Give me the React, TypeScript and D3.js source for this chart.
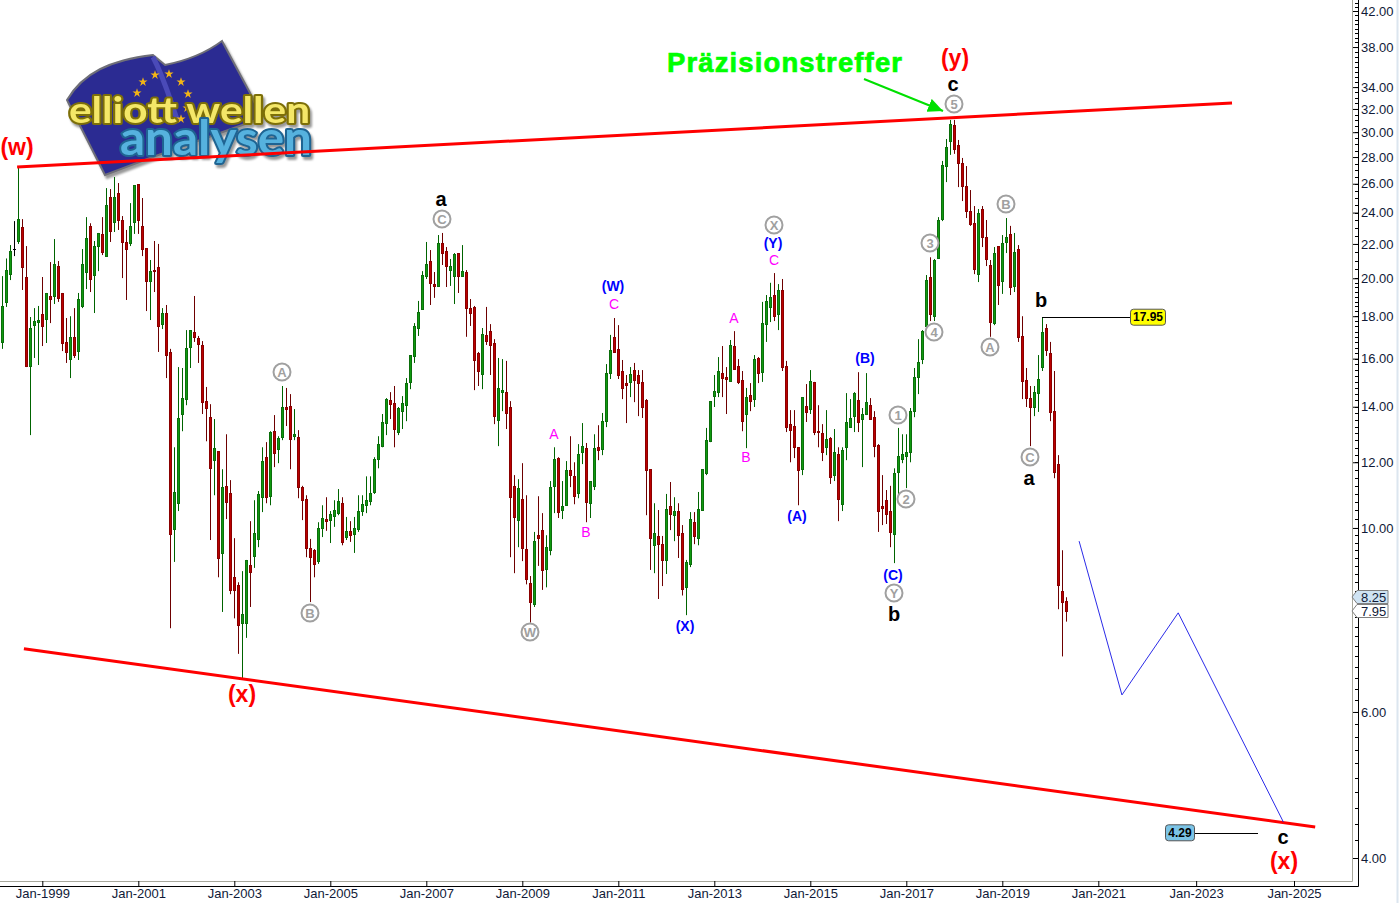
import React, { useEffect, useRef } from 'react';
import * as d3 from 'd3';

// monthly candles, first one is Mar-1998
const FIRST_MONTH = 2; // months after Jan-1998

const opens = [
  16.76,18.73,20.23,21.69,22.18,23.06,20.07,15.67,17.56,17.71,
  18.11,17.86,19.04,19.04,20.69,19.20,16.76,15.98,17.00,16.34,
  18.52,20.35,23.13,20.18,21.87,22.62,21.27,25.06,23.38,25.34,
  23.51,22.12,22.06,23.38,25.98,23.13,21.75,19.85,20.46,20.63,
  17.61,18.16,16.30,9.97,10.71,13.72,14.30,16.53,17.22,16.94,
  16.62,14.22,13.60,12.07,12.38,9.33,11.24,11.01,8.72,8.53,
  7.69,7.69,9.02,9.25,9.70,10.89,12.17,10.92,13.08,12.45,
  12.87,13.99,14.03,12.90,12.87,11.20,10.83,9.46,9.40,9.12,
  10.00,10.25,10.22,10.34,10.42,10.71,9.75,9.92,9.83,9.97,
  10.48,10.65,10.77,11.05,12.10,12.55,13.38,14.26,14.14,13.05,
  13.83,14.06,15.00,16.12,17.42,18.36,20.12,20.98,19.68,19.58,
  22.06,21.57,20.46,20.12,21.45,20.12,20.35,18.41,18.47,16.25,
  15.33,17.09,17.27,16.71,13.49,14.58,14.58,13.99,11.24,10.22,
  10.83,9.43,8.58,8.09,9.80,9.94,8.92,9.40,11.24,12.14,
  10.51,10.65,11.74,11.54,11.01,12.34,12.48,10.71,11.24,12.51,
  12.45,13.45,15.37,17.00,16.44,15.46,14.95,15.00,15.50,15.29,
  15.00,14.26,11.77,9.53,9.78,9.56,9.15,10.62,10.36,10.48,
  9.86,8.48,9.05,10.16,9.72,10.51,11.64,12.72,14.42,14.58,
  15.37,15.20,15.04,16.57,15.67,15.08,13.72,14.46,14.30,16.03,
  15.41,17.61,18.47,19.09,18.11,19.36,15.67,13.34,13.27,12.51,
  11.77,14.03,13.91,15.00,13.08,13.01,12.51,12.83,11.58,12.27,
  10.68,12.51,13.23,13.64,14.26,13.53,13.72,14.06,13.60,12.59,
  10.62,10.80,10.48,9.83,11.67,12.10,12.20,12.34,13.83,15.20,
  15.98,17.52,20.07,18.00,21.15,23.57,27.31,29.28,30.62,28.96,
  27.54,25.84,24.10,23.30,20.23,24.24,22.43,20.75,17.66,21.87,
  19.85,22.12,22.62,19.58,21.69,17.04,15.08,14.34,13.99,14.54,
  15.63,17.42,16.25,13.83,11.94,8.39,8.17,
];

const highs = [
  20.12,21.13,21.93,23.44,27.16,23.57,21.87,17.96,18.41,18.52,
  20.07,19.20,20.92,22.30,20.98,19.20,17.91,18.00,18.41,19.20,
  21.69,23.70,23.30,22.18,22.68,23.70,25.69,25.62,26.49,26.05,
  23.77,22.87,24.64,25.90,25.98,24.99,21.75,21.04,22.18,22.00,
  18.41,18.57,16.44,12.51,15.63,15.59,17.32,17.32,19.04,17.04,
  16.80,14.79,14.10,13.53,12.38,11.77,12.97,11.42,9.72,8.60,
  8.87,9.15,10.19,10.80,11.08,12.51,12.69,13.08,13.68,12.90,
  14.83,14.75,14.50,13.91,13.12,11.24,10.95,9.70,9.43,10.16,
  10.65,10.89,10.48,10.80,11.14,10.89,10.31,10.19,10.31,10.95,
  10.95,11.54,11.54,12.17,12.90,13.72,14.34,14.58,14.83,13.99,
  14.42,15.16,16.16,17.66,18.78,20.40,22.12,21.63,20.35,22.55,
  22.68,21.81,21.10,21.45,21.45,21.93,20.46,18.88,18.52,16.30,
  17.42,18.47,17.61,16.89,16.03,15.98,15.90,14.22,11.58,11.45,
  11.97,10.95,8.75,9.89,10.92,10.42,9.80,11.39,12.51,12.17,
  11.39,12.04,12.90,12.00,12.62,13.38,12.66,11.39,12.97,13.30,
  13.76,15.76,17.09,17.91,17.56,15.94,15.29,15.63,15.81,15.50,
  15.50,14.30,11.77,10.71,10.51,9.78,10.99,11.36,10.89,10.71,
  10.08,9.15,10.45,10.45,11.05,11.77,13.20,14.22,15.29,16.07,
  16.57,15.63,16.85,17.27,15.98,15.46,14.75,14.95,16.16,16.07,
  18.73,19.09,19.75,20.29,19.68,19.96,15.90,13.87,13.87,12.51,
  14.38,14.91,15.50,15.00,14.06,13.34,13.87,12.87,13.16,12.51,
  12.51,14.54,14.30,14.58,15.41,13.95,15.37,14.34,13.83,12.62,
  11.58,11.11,11.24,11.80,13.20,12.97,12.97,13.95,15.59,16.89,
  17.32,20.18,21.20,21.10,23.70,27.70,29.44,31.04,31.04,29.36,
  27.93,27.31,25.55,24.44,24.24,24.44,23.51,21.04,21.81,21.87,
  22.55,23.64,23.13,22.68,21.93,18.00,15.59,14.83,14.83,16.16,
  17.96,17.61,16.76,15.46,12.24,9.40,8.25,
];

const lows = [
  16.44,18.47,19.90,21.27,22.00,19.36,15.63,12.94,16.03,15.72,
  16.57,16.71,17.66,18.62,18.73,16.34,15.81,15.16,16.03,15.94,
  18.41,19.41,19.25,18.16,20.40,21.33,21.27,22.12,22.74,22.87,
  20.01,18.83,21.87,22.62,22.62,21.27,18.26,17.81,19.25,16.30,
  17.37,15.16,7.57,9.10,10.48,13.08,14.06,15.59,16.76,15.81,
  13.72,12.72,9.67,10.95,8.72,7.92,10.25,8.32,7.78,7.05,
  6.58,7.37,8.03,8.95,9.48,10.45,10.71,10.65,11.84,11.97,
  12.76,13.27,11.77,12.76,10.86,10.22,9.22,8.14,8.72,9.05,
  9.75,9.92,9.59,10.03,10.36,9.53,9.67,9.62,9.33,9.89,
  10.34,10.42,10.65,10.99,11.80,12.51,12.94,13.53,12.51,12.94,
  13.16,13.45,14.70,15.81,17.04,18.36,19.96,18.57,18.94,19.52,
  20.75,19.52,19.58,18.62,19.20,20.12,17.00,17.52,14.66,14.83,
  14.70,16.62,15.29,13.34,12.55,13.83,13.16,9.22,8.82,9.48,
  9.12,8.55,7.69,8.03,9.00,8.42,8.48,9.27,10.42,10.28,
  10.25,10.65,11.20,10.68,10.86,11.94,10.16,10.28,11.11,12.07,
  12.24,13.23,15.12,16.30,15.12,14.30,13.38,14.38,14.18,13.64,
  13.57,10.36,8.90,8.82,8.21,8.51,8.80,9.94,9.64,9.20,
  8.29,7.85,8.97,9.56,9.53,10.51,11.58,12.69,13.99,14.38,
  14.38,13.72,15.04,15.55,14.91,13.08,12.48,13.83,13.99,14.95,
  15.00,16.76,17.71,17.76,17.32,15.46,13.05,12.00,12.14,10.65,
  11.58,13.42,13.72,12.94,12.51,12.04,12.24,11.30,11.39,10.19,
  10.48,12.07,13.20,13.05,13.05,11.84,13.68,13.53,12.17,9.89,
  10.08,10.11,9.48,9.07,10.99,11.97,11.17,12.00,13.60,14.50,
  15.76,17.42,17.76,17.76,21.10,23.44,26.12,28.17,28.25,25.76,
  24.78,23.64,23.13,20.23,19.79,21.81,20.69,17.00,17.56,18.57,
  19.15,21.45,19.09,19.25,16.76,14.30,13.99,12.55,13.64,13.80,
  15.46,16.12,13.45,11.48,7.98,7.00,7.71,
];

const closes = [
  18.52,20.46,21.57,21.69,23.57,20.63,15.67,17.42,17.76,17.81,
  17.52,19.20,18.88,20.80,18.94,16.71,16.30,17.00,16.16,18.88,
  20.80,22.36,19.96,21.87,22.68,21.51,24.51,22.81,25.06,23.51,
  22.12,21.69,23.13,25.90,23.51,21.69,19.85,20.40,20.40,17.52,
  18.16,16.16,9.83,11.05,13.57,14.34,16.48,17.32,17.00,16.66,
  14.18,13.95,11.80,12.48,9.20,11.20,10.74,8.42,8.42,7.63,
  7.87,9.15,8.85,9.86,10.99,12.04,10.89,13.05,12.31,12.83,
  13.99,13.91,12.80,12.97,11.20,10.80,9.46,9.22,9.05,10.00,
  10.28,10.19,10.39,10.51,10.77,9.62,9.92,9.80,10.00,10.48,
  10.68,10.80,11.01,12.10,12.62,13.42,14.30,14.10,13.16,13.95,
  14.14,14.95,16.16,17.52,18.21,20.18,20.80,19.74,19.58,22.06,
  21.45,20.69,20.69,21.39,20.12,20.40,18.41,18.16,15.94,15.46,
  17.14,16.80,16.62,13.64,14.75,14.66,13.76,10.89,10.31,11.17,
  9.46,8.67,8.14,9.64,9.72,8.90,9.48,11.20,12.10,10.45,
  10.62,11.74,11.58,10.92,12.27,12.55,10.74,11.39,12.48,12.41,
  13.45,15.37,16.39,16.30,15.29,14.75,14.87,15.33,15.08,14.95,
  13.99,11.74,9.72,9.86,9.56,9.15,10.54,10.39,10.48,9.80,
  8.44,9.10,10.25,9.78,10.54,11.77,12.76,14.22,14.62,15.46,
  15.16,15.12,16.62,15.55,15.00,13.45,14.38,14.22,15.98,15.37,
  17.66,18.78,18.99,18.00,19.36,15.63,13.23,13.12,12.51,11.74,
  14.38,13.80,15.04,13.05,13.05,12.34,12.80,11.51,12.34,10.83,
  12.41,13.42,13.57,14.54,13.42,13.72,14.18,13.53,12.55,10.48,
  10.58,10.39,9.89,11.64,12.20,12.27,12.34,13.83,15.20,15.85,
  17.27,19.90,18.11,21.04,23.51,27.39,28.80,30.70,28.64,27.54,
  25.84,24.10,23.25,20.52,23.97,22.43,21.10,17.71,21.45,19.63,
  22.06,22.43,19.52,21.51,17.00,15.04,14.34,13.99,14.58,15.12,
  17.22,16.39,13.80,11.67,8.53,8.14,7.95,
];

// trend channel and forecast, [months after Jan-1998, price]
const upperChannel: [number, number][] = [[5.7, 27.23], [308.8, 32.54]];
const lowerChannel: [number, number][] = [[7.4, 7.15], [329.2, 4.36]];
const forecast: [number, number][] = [[271.2, 9.64], [281.8, 6.29], [295.6, 7.90], [321.4, 4.42]];

const yTickValues = [4, 6, 10, 12, 14, 16, 18, 20, 22, 24, 26, 28, 30, 32, 34, 38, 42];
const xTickYears = d3.range(1999, 2026, 2);

const redLabels: [string, number, number][] = [['(w)', 17, 147], ['(x)', 242, 694], ['(y)', 955, 58], ['(x)', 1284, 861]];
const blackLabels: [string, number, number][] = [['a', 441, 199], ['c', 953, 84], ['b', 1041, 300], ['a', 1029, 478], ['b', 894, 614], ['c', 1283, 837]];
const blueLabels: [string, number, number][] = [['(W)', 613, 286], ['(Y)', 773, 243], ['(B)', 865, 358], ['(A)', 797, 516], ['(X)', 685, 626], ['(C)', 893, 575]];
const pinkLabels: [string, number, number][] = [['C', 614, 304], ['C', 774, 260], ['A', 554, 434], ['B', 586, 532], ['A', 734, 318], ['B', 746, 457]];
const circledLabels: [string, number, number][] = [
  ['C', 442, 219], ['A', 282, 372], ['B', 310, 613], ['W', 530, 632], ['X', 774, 225], ['Y', 894, 593],
  ['1', 898, 415], ['2', 906, 499], ['3', 930, 243], ['4', 934, 332], ['5', 954, 104],
  ['A', 990, 347], ['B', 1006, 204], ['C', 1030, 457],
];
const logoStars = [[143, 82], [155, 75], [169, 74], [181, 82], [188, 94], [187, 108], [181, 119], [137, 93]];

const x = d3.scaleLinear().domain([2, 276, 324]).range([2.3, 1098.3, 1294]);
const y = d3.scaleLog().domain([4, 42]).range([858, 11]);
const FONT = '"Liberation Sans", Arial, sans-serif';
const AXIS_COLOR = '#101a38';

const trendLine = d3.line<[number, number]>().x(d => x(d[0])).y(d => y(d[1]));

function Labels({ items, ...rest }: any) {
  return (
    <g textAnchor="middle" dominantBaseline="central" fontFamily={FONT} {...rest}>
      {items.map(([t, px, py]: any, i: number) => <text key={i} x={px} y={py}>{t}</text>)}
    </g>
  );
}

function PriceFlag({ value, fill }: { value: number; fill: string }) {
  const py = Math.round(y(value));
  const path = d3.path();
  path.moveTo(1352, py);
  path.lineTo(1357, py - 6.5);
  path.lineTo(1388, py - 6.5);
  path.lineTo(1388, py + 6.5);
  path.lineTo(1357, py + 6.5);
  path.closePath();
  return (
    <g>
      <path d={path.toString()} fill={fill} stroke="#808080" />
      <text x={1361} y={py} dominantBaseline="central" fontFamily={FONT} fontSize={13} fill={AXIS_COLOR}>{value.toFixed(2)}</text>
    </g>
  );
}

const FLAG_PATH = 'M67 100 C83 73 110 60 153 55 L165 65 C190 60 210 50 222 41 L250 93 L262 118 L150 158 L105 175 Z';

function Logo() {
  const star = d3.symbol().type(d3.symbolStar).size(26)() as string;
  const shared = {
    fontFamily: '"Lato", "Noto Sans", sans-serif',
    fontWeight: 700,
    paintOrder: 'stroke' as const,
    strokeLinejoin: 'round' as const,
    lengthAdjust: 'spacingAndGlyphs' as const,
  };
  return (
    <g style={{ filter: 'drop-shadow(2px 3px 1px rgba(0,0,0,0.4))' }}>
      <path d={FLAG_PATH} fill="#2b2b92" stroke="#6f6f78" strokeWidth={2} />
      <path d="M153 57 C165 80 170 100 178 122" fill="none" stroke="#4a4ab8" strokeWidth={5} />
      {logoStars.map((s, i) => <path key={i} d={star} transform={`translate(${s[0]},${s[1]})`} fill="#f2b416" />)}
      <text x={69} y={123} fontSize={37} textLength={241} fill="#f4e768" stroke="#7d6f08" strokeWidth={4} {...shared}>elliott wellen</text>
      <text x={120} y={155} fontSize={48} textLength={192} fill="#56b2de" stroke="#1f6492" strokeWidth={4} {...shared}>analysen</text>
    </g>
  );
}

export default function App() {
  const xAxisRef = useRef<SVGGElement>(null);
  const yAxisRef = useRef<SVGGElement>(null);
  const minorRef = useRef<SVGGElement>(null);

  useEffect(() => {
    const xAxis = d3.axisBottom(x)
      .tickValues(xTickYears.map(yr => (yr - 1998) * 12))
      .tickFormat(d => `Jan-${1998 + (d as number) / 12}`)
      .tickSize(5)
      .tickPadding(3);
    const xg = d3.select(xAxisRef.current).call(xAxis as any);
    xg.select('.domain').remove();
    xg.selectAll('text').attr('font-size', 13).attr('font-family', FONT).attr('fill', AXIS_COLOR);

    const yAxis = d3.axisRight(y)
      .tickValues(yTickValues)
      .tickFormat(d => (d as number).toFixed(2))
      .tickSize(5)
      .tickPadding(3);
    const yg = d3.select(yAxisRef.current).call(yAxis as any);
    yg.select('.domain').remove();
    yg.selectAll('text').attr('font-size', 13).attr('font-family', FONT).attr('fill', AXIS_COLOR);

    // small ticks, spacing widens going up the log axis
    const minor = [...d3.range(4, 10, 0.2), ...d3.range(10, 20, 0.25), ...d3.range(20, 44, 0.5)];
    d3.select(minorRef.current)
      .selectAll('line')
      .data(minor)
      .join('line')
      .attr('x1', 1355)
      .attr('x2', 1358)
      .attr('y1', d => Math.round(y(d)) + 0.5)
      .attr('y2', d => Math.round(y(d)) + 0.5)
      .attr('stroke', '#000');
  }, []);

  return (
    <svg width={1399} height={903} style={{ position: 'absolute', left: 0, top: 0, background: '#fff' }}>
      <defs>
        <marker id="greenHead" markerUnits="userSpaceOnUse" markerWidth={16} markerHeight={14} refX={15} refY={7} orient="auto">
          <path d="M0 0 L15 7 L0 14 Z" fill="#00e000" />
        </marker>
      </defs>

      <Logo />

      {/* frame */}
      <line x1={0} x2={1352.5} y1={881.5} y2={881.5} stroke="#a8a89c" />
      <line x1={1352.5} x2={1352.5} y1={0} y2={881.5} stroke="#a8a89c" />
      <line x1={0} x2={1358.5} y1={886.5} y2={886.5} stroke="#000" />
      <line x1={1358.5} x2={1358.5} y1={0} y2={886.5} stroke="#000" />
      <line x1={1397.5} x2={1397.5} y1={0} y2={903} stroke="#dce6ef" strokeWidth={2} />
      <g ref={xAxisRef} transform="translate(0,881)" />
      <g ref={yAxisRef} transform="translate(1353,0)" />
      <g ref={minorRef} />

      {/* candles */}
      <g>
        {opens.map((open, i) => {
          const cx = Math.floor(x(i + FIRST_MONTH));
          const close = closes[i];
          const up = close > open;
          const flat = close === open;
          const wick = flat ? '#000' : up ? '#006400' : '#6e0000';
          const top = Math.round(y(Math.max(open, close)));
          const bottom = Math.round(y(Math.min(open, close)));
          return (
            <g key={i}>
              <rect x={cx} width={1} y={y(highs[i])} height={y(lows[i]) - y(highs[i])} fill={wick} />
              {flat
                ? <rect x={cx - 1} width={3} y={top} height={1} fill="#000" />
                : <rect x={cx - 0.5} width={2} y={top + 0.5} height={Math.max(bottom - top, 1)}
                    fill={up ? '#0f9a0f' : '#bb0000'} stroke={up ? '#0b6e0b' : '#8a0000'} />}
            </g>
          );
        })}
      </g>

      {/* channel and forecast */}
      <path d={trendLine(upperChannel) as string} stroke="#ff0000" strokeWidth={3} fill="none" />
      <path d={trendLine(lowerChannel) as string} stroke="#ff0000" strokeWidth={3} fill="none" />
      <path d={trendLine(forecast) as string} stroke="#2b2be8" strokeWidth={1} fill="none" />

      {/* price levels */}
      <line x1={1042} x2={1130} y1={Math.round(y(17.95)) + 0.5} y2={Math.round(y(17.95)) + 0.5} stroke="#000" />
      <rect x={1130.5} y={y(17.95) - 8} width={35} height={16} rx={3} fill="#ffff00" stroke="#555" />
      <text x={1148} y={y(17.95)} textAnchor="middle" dominantBaseline="central" fontFamily={FONT} fontWeight={700} fontSize={12}>17.95</text>
      <line x1={1194} x2={1258} y1={Math.round(y(4.29)) + 0.5} y2={Math.round(y(4.29)) + 0.5} stroke="#000" />
      <rect x={1165.5} y={y(4.29) - 8} width={29} height={16} rx={3} fill="#7cc4e6" stroke="#555" />
      <text x={1180} y={y(4.29)} textAnchor="middle" dominantBaseline="central" fontFamily={FONT} fontWeight={700} fontSize={12}>4.29</text>

      {/* wave counts */}
      <Labels items={redLabels} fontSize={23} fontWeight={700} fill="#ff0000" />
      <Labels items={blackLabels} fontSize={20} fontWeight={700} fill="#000" />
      <Labels items={blueLabels} fontSize={14} fontWeight={700} fill="#0000ff" />
      <Labels items={pinkLabels} fontSize={14} fill="#ff00ff" />
      <g>
        {circledLabels.map(([t, px, py], i) => (
          <g key={i}>
            <circle cx={px as number} cy={py as number} r={8.5} fill="#fff" stroke="#a0a0a0" strokeWidth={2} />
            <text x={px as number} y={py as number} textAnchor="middle" dominantBaseline="central" fontFamily={FONT} fontWeight={700} fontSize={13} fill="#a0a0a0">{t}</text>
          </g>
        ))}
      </g>

      {/* hit annotation */}
      <text x={667} y={71.5} fontFamily={FONT} fontWeight={700} fontSize={27.5} fill="#00ff00" stroke="#00ff00" strokeWidth={0.7} textLength={235}>Präzisionstreffer</text>
      <line x1={864} y1={79} x2={943} y2={111} stroke="#00e000" strokeWidth={2} markerEnd="url(#greenHead)" />

      <PriceFlag value={8.25} fill="#cfe3f3" />
      <PriceFlag value={7.95} fill="#fff" />
    </svg>
  );
}
